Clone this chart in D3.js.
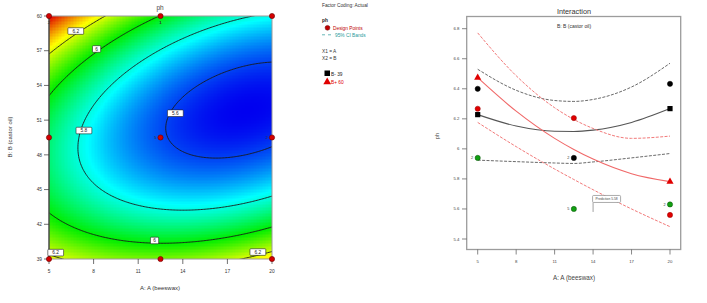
<!DOCTYPE html>
<html>
<head>
<meta charset="utf-8">
<script src="https://cdn.jsdelivr.net/npm/d3@7"></script>
<style>
body { margin: 0; background: #fff; }
text { font-family: "Liberation Sans", Arial, sans-serif; }
</style>
</head>
<body>
<svg id="chart" width="707" height="303"></svg>
<script>
// ---- contour plot (ph over A: beeswax, B: castor oil) ----
var beeswaxTicks = [5, 8, 11, 14, 17, 20];
var castorTicks = [39, 42, 45, 48, 51, 54, 57, 60];
var contourLevels = [5.6, 5.8, 6.0, 6.2];
// quadratic model in coded units: b0, A, B, AB, A^2, B^2
var coef = [5.61, -0.163, -0.06, -0.183, 0.132, 0.446];
// design points
var designA = [5, 12.5, 20, 5, 12.5, 20, 5, 12.5, 20];
var designB = [60, 60, 60, 49.5, 49.5, 49.5, 39, 39, 39];
var designN = [1, 2, 1, 2, 5, 2, 1, 2, 1];
// contour label spots
var labelA = [6.8, 8.2, 13.5, 7.35, 12.1, 5.45, 19.05];
var labelB = [58.7, 57.15, 51.6, 50.1, 40.6, 39.55, 39.6];
var labelText = ["6.2", "6", "5.6", "5.8", "6", "6.2", "6.2"];

// ---- interaction plot ----
var phTicks = [5.4, 5.6, 5.8, 6, 6.2, 6.4, 6.6, 6.8];
var aLevels = [5, 8, 11, 12.5, 14, 17, 20];
var predLow = [6.228, 6.152, 6.117, 6.116, 6.125, 6.176, 6.268];   // B- 39
var lowUpper = [6.530, 6.39, 6.322, 6.316, 6.329, 6.412, 6.570];
var lowLower = [5.925, 5.915, 5.906, 5.903, 5.913, 5.94, 5.969];
var predHigh = [6.474, 6.251, 6.07, 5.996, 5.932, 5.835, 5.782];   // B+ 60
var highUpper = [6.772, 6.487, 6.274, 6.196, 6.136, 6.07, 6.085];
var highLower = [6.176, 6.015, 5.866, 5.796, 5.728, 5.6, 5.482];
// actual design points
var ptA = [5, 5, 5, 12.5, 12.5, 12.5, 20, 20, 20];
var ptPh = [6.40, 6.267, 5.94, 6.205, 5.94, 5.60, 6.433, 5.63, 5.56];
var ptGroup = ["low", "high", "mid", "high", "low", "mid", "low", "mid", "high"];
var ptCount = [1, 1, 2, 1, 2, 5, 1, 2, 1];
var flagA = 14, flagPh = 5.58;

var svg = d3.select("#chart");

function ph(A, B) {
  var x1 = (A - 12.5) / 7.5, x2 = (B - 49.5) / 10.5;
  return coef[0] + coef[1] * x1 + coef[2] * x2 + coef[3] * x1 * x2 + coef[4] * x1 * x1 + coef[5] * x2 * x2;
}

// ===== left: contour =====
var xL = d3.scaleLinear().domain([5, 20]).range([49, 272]);
var yL = d3.scaleLinear().domain([39, 60]).range([259, 16]);

// color fill cells
var nA = 150, nB = 162;
var cells = [];
for (var j = 0; j < nB; j++) {
  for (var i = 0; i < nA; i++) {
    var a0 = 5 + i * 15 / nA, b1 = 60 - j * 21 / nB;
    cells.push({a0: a0, a1: a0 + 15 / nA, b1: b1, b0: b1 - 21 / nB,
      v: ph(a0 + 7.5 / nA, b1 - 10.5 / nB)});
  }
}
var lo = d3.min(cells, function(d) { return d.v; });
var hi = d3.max(cells, function(d) { return d.v; });
var color = d3.scaleLinear()
  .domain(d3.range(5).map(function(k) { return lo + k * (hi - lo) / 4; }))
  .range(["#0000f0", "#00ffff", "#00ee00", "#ffff00", "#e00000"]);

var gL = svg.append("g");
gL.append("g").selectAll("rect").data(cells).enter().append("rect")
  .attr("x", function(d) { return xL(d.a0); })
  .attr("y", function(d) { return yL(d.b1); })
  .attr("width", function(d) { return xL(d.a1) - xL(d.a0) + 0.4; })
  .attr("height", function(d) { return yL(d.b0) - yL(d.b1) + 0.4; })
  .attr("fill", function(d) { return color(d.v); })
  .attr("shape-rendering", "crispEdges");

// contour lines (grid extends one step past the edges, then clipped)
var dA = 0.1, dB = 0.15, gx = 153, gy = 143;
var grid = new Array(gx * gy);
for (var j = 0; j < gy; j++)
  for (var i = 0; i < gx; i++)
    grid[j * gx + i] = ph(5 + (i - 1) * dA, 60 - (j - 1) * dB);
var contours = d3.contours().size([gx, gy]).thresholds(contourLevels)(grid);
var proj = d3.geoTransform({
  point: function(x, y) {
    this.stream.point(xL(5 + (x - 1.5) * dA), yL(60 - (y - 1.5) * dB));
  }
});
svg.append("clipPath").attr("id", "clipL").append("rect")
  .attr("x", 49).attr("y", 16).attr("width", 223).attr("height", 243);
gL.append("g").attr("clip-path", "url(#clipL)")
  .selectAll("path").data(contours).enter().append("path")
  .attr("d", d3.geoPath(proj))
  .attr("fill", "none").attr("stroke", "#1a1a1a").attr("stroke-width", 0.9);

// frame
gL.append("rect").attr("x", 49).attr("y", 16).attr("width", 223).attr("height", 243)
  .attr("fill", "none").attr("stroke", "#9a9a9a").attr("stroke-width", 1);
gL.append("line").attr("x1", 49).attr("x2", 49).attr("y1", 16).attr("y2", 259)
  .attr("stroke", "#222").attr("stroke-width", 1);

// contour labels
var lab = gL.append("g").selectAll("g").data(labelText).enter().append("g")
  .attr("transform", function(d, k) { return "translate(" + xL(labelA[k]) + "," + yL(labelB[k]) + ")"; });
lab.append("rect")
  .attr("x", function(d) { return -(d.length * 1.9 + 2.2); })
  .attr("width", function(d) { return 2 * (d.length * 1.9 + 2.2); })
  .attr("y", -3.3).attr("height", 6.6).attr("rx", 0.8)
  .attr("fill", "#fff").attr("stroke", "#222").attr("stroke-width", 0.6);
lab.append("text").attr("text-anchor", "middle").attr("y", 1.7)
  .attr("font-size", 4.8).attr("fill", "#222").text(function(d) { return d; });

// axes
var yAx = gL.append("g");
yAx.selectAll("line").data(castorTicks).enter().append("line")
  .attr("x1", 44).attr("x2", 49).attr("y1", yL).attr("y2", yL)
  .attr("stroke", "#333").attr("stroke-width", 0.7);
yAx.selectAll("text").data(castorTicks).enter().append("text")
  .attr("x", 42).attr("y", function(d) { return yL(d) + 1.7; })
  .attr("text-anchor", "end").attr("font-size", 4.8).attr("fill", "#333").text(String);
var xAx = gL.append("g");
xAx.selectAll("line").data(beeswaxTicks).enter().append("line")
  .attr("x1", xL).attr("x2", xL).attr("y1", 259).attr("y2", 264)
  .attr("stroke", "#333").attr("stroke-width", 0.7);
xAx.selectAll("text").data(beeswaxTicks).enter().append("text")
  .attr("x", xL).attr("y", 273).attr("text-anchor", "middle")
  .attr("font-size", 4.8).attr("fill", "#333").text(String);

gL.append("text").attr("x", 160).attr("y", 290).attr("text-anchor", "middle")
  .attr("font-size", 6).attr("fill", "#333").text("A: A (beeswax)");
gL.append("text").attr("transform", "translate(12,137) rotate(-90)")
  .attr("text-anchor", "middle").attr("font-size", 6).attr("fill", "#333")
  .text("B: B (castor oil)");
gL.append("text").attr("x", 160).attr("y", 10).attr("text-anchor", "middle")
  .attr("font-size", 6.5).attr("fill", "#444").text("ph");

// design points
var dp = gL.append("g").selectAll("g").data(designA).enter().append("g");
dp.append("circle")
  .attr("cx", function(d) { return xL(d); })
  .attr("cy", function(d, k) { return yL(designB[k]); })
  .attr("r", 2.6).attr("fill", "#d40000").attr("stroke", "#6a0000").attr("stroke-width", 0.6);
dp.filter(function(d, k) { return designN[k] > 1; }).append("text")
  .attr("x", function(d, k) {
    var x = xL(d);
    if (designB[k] !== 49.5) return x;
    return d === 5 ? x + 5 : x - 5;
  })
  .attr("y", function(d, k) {
    var y = yL(designB[k]);
    if (designB[k] === 60) return y + 8;
    if (designB[k] === 39) return y - 4;
    return y + 1.6;
  })
  .attr("text-anchor", "middle").attr("font-size", 4.2).attr("fill", "#333")
  .text(function(d, k) { return designN[k]; });

// ===== middle legend =====
var lg = svg.append("g").attr("font-size", 4.8);
lg.append("text").attr("x", 322).attr("y", 7).attr("fill", "#333").text("Factor Coding: Actual");
lg.append("text").attr("x", 322).attr("y", 22).attr("fill", "#222").attr("font-weight", "bold").text("ph");
lg.append("circle").attr("cx", 327.5).attr("cy", 27.8).attr("r", 2.4)
  .attr("fill", "#c00000").attr("stroke", "#600").attr("stroke-width", 0.5);
lg.append("text").attr("x", 333).attr("y", 29.5).attr("fill", "#c00000").text("Design Points");
lg.append("line").attr("x1", 322).attr("x2", 333).attr("y1", 34.8).attr("y2", 34.8)
  .attr("stroke", "#2a9a9a").attr("stroke-width", 0.7).attr("stroke-dasharray", "3,3");
lg.append("text").attr("x", 335).attr("y", 36.5).attr("fill", "#2a9a9a").text("95% CI Bands");
lg.append("text").attr("x", 322).attr("y", 52.5).attr("fill", "#333").text("X1 = A");
lg.append("text").attr("x", 322).attr("y", 60).attr("fill", "#333").text("X2 = B");
lg.append("rect").attr("x", 324.5).attr("y", 70.5).attr("width", 5.5).attr("height", 5.5).attr("fill", "#000");
lg.append("text").attr("x", 331).attr("y", 75.5).attr("fill", "#222").text("B- 39");
lg.append("path").attr("d", d3.symbol(d3.symbolTriangle, 26)()).attr("transform", "translate(327.2,82)")
  .attr("fill", "#e00000");
lg.append("text").attr("x", 331).attr("y", 84).attr("fill", "#e00000").text("B+ 60");

// ===== right: interaction =====
var xR = d3.scaleLinear().domain([5, 20]).range([477.7, 670]);
var yR = d3.scaleLinear().domain([5.4, 6.8]).range([239, 28.7]);
var gR = svg.append("g");

gR.append("rect").attr("x", 466.7).attr("y", 16.5).attr("width", 214).attr("height", 233)
  .attr("fill", "#fff").attr("stroke", "#9c9c9c").attr("stroke-width", 1.3);

var line = function(vals) {
  return d3.line().curve(d3.curveMonotoneX)
    .x(function(d, k) { return xR(aLevels[k]); })
    .y(function(d) { return yR(d); })(vals);
};
var series = [
  {v: lowUpper, c: "#6a6a6a", dash: "3,1.4", w: 1},
  {v: lowLower, c: "#6a6a6a", dash: "3,1.4", w: 1},
  {v: predLow, c: "#555", dash: null, w: 1.1},
  {v: highUpper, c: "#f27a7a", dash: "3,1.4", w: 1},
  {v: highLower, c: "#f27a7a", dash: "3,1.4", w: 1},
  {v: predHigh, c: "#f06868", dash: null, w: 1.1}
];
gR.append("g").selectAll("path").data(series).enter().append("path")
  .attr("d", function(d) { return line(d.v); })
  .attr("fill", "none").attr("stroke", function(d) { return d.c; })
  .attr("stroke-width", function(d) { return d.w; })
  .attr("stroke-dasharray", function(d) { return d.dash; });

// end markers of the prediction lines
var ends = [0, aLevels.length - 1];
gR.append("g").selectAll("rect").data(ends).enter().append("rect")
  .attr("x", function(k) { return xR(aLevels[k]) - 2.6; })
  .attr("y", function(k) { return yR(predLow[k]) - 2.6; })
  .attr("width", 5.2).attr("height", 5.2).attr("fill", "#000");
gR.append("g").selectAll("path").data(ends).enter().append("path")
  .attr("d", d3.symbol(d3.symbolTriangle, 22)())
  .attr("transform", function(k) { return "translate(" + xR(aLevels[k]) + "," + yR(predHigh[k]) + ")"; })
  .attr("fill", "#e00000");

// design points
var groupFill = {low: "#000", high: "#e00000", mid: "#12a012"};
var groupStroke = {low: "#000", high: "#900", mid: "#064d06"};
gR.append("g").selectAll("circle").data(ptA).enter().append("circle")
  .attr("cx", function(d) { return xR(d); })
  .attr("cy", function(d, k) { return yR(ptPh[k]); })
  .attr("r", 2.6)
  .attr("fill", function(d, k) { return groupFill[ptGroup[k]]; })
  .attr("stroke", function(d, k) { return groupStroke[ptGroup[k]]; })
  .attr("stroke-width", 0.5);
var cnt = gR.append("g");
ptA.forEach(function(d, k) {
  if (ptCount[k] > 1) {
    cnt.append("text").attr("x", xR(d) - 4.5).attr("y", yR(ptPh[k]) + 1.4)
      .attr("text-anchor", "end").attr("font-size", 3.8).attr("fill", "#333").text(ptCount[k]);
  }
});

// prediction flag
var fx = xR(flagA), fy = yR(flagPh);
gR.append("line").attr("x1", fx).attr("x2", fx).attr("y1", fy).attr("y2", fy - 9.5)
  .attr("stroke", "#777").attr("stroke-width", 0.7);
gR.append("rect").attr("x", fx - 0.5).attr("y", fy - 16.5).attr("width", 28).attr("height", 7)
  .attr("rx", 1).attr("fill", "#fff").attr("stroke", "#888").attr("stroke-width", 0.7);
gR.append("text").attr("x", fx + 13.5).attr("y", fy - 11.8).attr("text-anchor", "middle")
  .attr("font-size", 3.3).attr("fill", "#444").text("Prediction  " + flagPh.toFixed(2));

// axes
var yAxR = gR.append("g");
yAxR.selectAll("line").data(phTicks).enter().append("line")
  .attr("x1", 462).attr("x2", 466.7).attr("y1", yR).attr("y2", yR)
  .attr("stroke", "#555").attr("stroke-width", 0.7);
yAxR.selectAll("text").data(phTicks).enter().append("text")
  .attr("x", 459.5).attr("y", function(d) { return yR(d) + 1.5; })
  .attr("text-anchor", "end").attr("font-size", 4.3).attr("fill", "#444")
  .text(function(d) { return d === 6 ? "6" : d.toFixed(1); });
var xAxR = gR.append("g");
xAxR.selectAll("line").data(beeswaxTicks).enter().append("line")
  .attr("x1", xR).attr("x2", xR).attr("y1", 249.5).attr("y2", 254.5)
  .attr("stroke", "#555").attr("stroke-width", 0.7);
xAxR.selectAll("text").data(beeswaxTicks).enter().append("text")
  .attr("x", xR).attr("y", 263).attr("text-anchor", "middle")
  .attr("font-size", 4.3).attr("fill", "#444").text(String);

gR.append("text").attr("x", 574).attr("y", 13.5).attr("text-anchor", "middle")
  .attr("font-size", 7.3).attr("fill", "#333").text("Interaction");
gR.append("text").attr("x", 574).attr("y", 27.5).attr("text-anchor", "middle")
  .attr("font-size", 5).attr("fill", "#333").text("B: B (castor oil)");
gR.append("text").attr("x", 574).attr("y", 280).attr("text-anchor", "middle")
  .attr("font-size", 6.3).attr("fill", "#444").text("A: A (beeswax)");
gR.append("text").attr("transform", "translate(439,136) rotate(-90)")
  .attr("text-anchor", "middle").attr("font-size", 5.5).attr("fill", "#444").text("ph");
</script>
</body>
</html>
